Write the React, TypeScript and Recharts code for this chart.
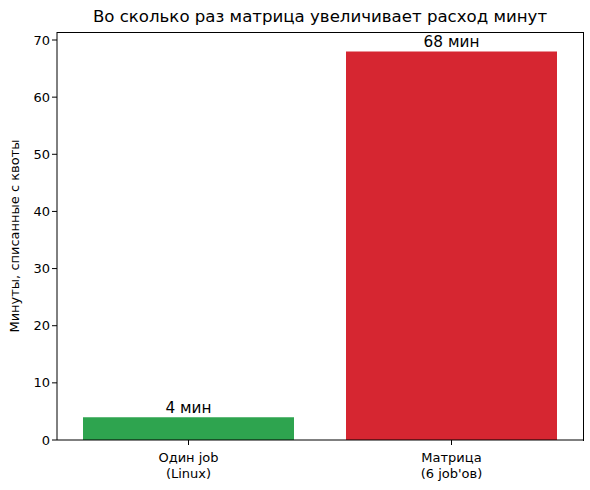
import React from 'react';
import { BarChart, Bar, XAxis, YAxis, Cell, LabelList } from 'recharts';

const categories = ['Один job\n(Linux)', "Матрица\n(6 job'ов)"];
const minutes = [4, 68];
const barColors = ['#2ea44f', '#d62631'];
const yTicks = [0, 10, 20, 30, 40, 50, 60, 70];

const data = categories.map((name, i) => ({ name, minutes: minutes[i] }));

const FONT = 'DejaVu Sans, sans-serif';

const CategoryTick = ({ x, y, payload }: any) => {
  const lines = String(payload.value).split('\n');
  return (
    <text x={x} y={y + 15} textAnchor="middle" fontSize={13} fontFamily={FONT} fill="#000">
      {lines.map((l, i) => (
        <tspan key={i} x={x} dy={i === 0 ? 0 : 16}>{l}</tspan>
      ))}
    </text>
  );
};

const App: React.FC = () => {
  return (
    <div style={{ position: 'absolute', left: 0, top: 0, width: 590, height: 490, background: '#fff' }}>
      <div
        style={{
          position: 'absolute',
          left: 57,
          width: 526,
          top: 7,
          textAlign: 'center',
          fontFamily: FONT,
          fontSize: 16.6,
          color: '#000',
        }}
      >
        Во сколько раз матрица увеличивает расход минут
      </div>
      <BarChart
        width={590}
        height={490}
        data={data}
        margin={{ top: 32, right: 7, left: 0, bottom: 0 }}
        barCategoryGap={26}
      >
        <XAxis
          dataKey="name"
          height={50}
          tick={<CategoryTick />}
          tickSize={5}
          axisLine={{ stroke: '#000' }}
          tickLine={{ stroke: '#000' }}
        />
        <YAxis
          domain={[0, 71.4]}
          ticks={yTicks}
          width={57}
          tickSize={5}
          tick={{ fontSize: 13, fontFamily: FONT, fill: '#000' }}
          axisLine={{ stroke: '#000' }}
          tickLine={{ stroke: '#000' }}
          allowDataOverflow
          label={{
            value: 'Минуты, списанные с квоты',
            angle: -90,
            position: 'insideLeft',
            offset: 14,
            style: { textAnchor: 'middle', fontSize: 13, fontFamily: FONT, fill: '#000' },
          }}
        />
        <Bar dataKey="minutes" isAnimationActive={false}>
          {data.map((d, i) => (
            <Cell key={d.name} fill={barColors[i]} />
          ))}
          <LabelList
            dataKey="minutes"
            position="top"
            offset={4}
            formatter={(v: any) => `${v} мин`}
            style={{ fontSize: 15.3, fontFamily: FONT, fill: '#000' }}
          />
        </Bar>
      </BarChart>
      {/* top and right sides of the axes frame */}
      <div
        style={{
          position: 'absolute',
          left: 57,
          top: 31.5,
          width: 526,
          height: 408,
          borderTop: '1px solid #000',
          borderRight: '1px solid #000',
          pointerEvents: 'none',
        }}
      />
    </div>
  );
};

export default App;
